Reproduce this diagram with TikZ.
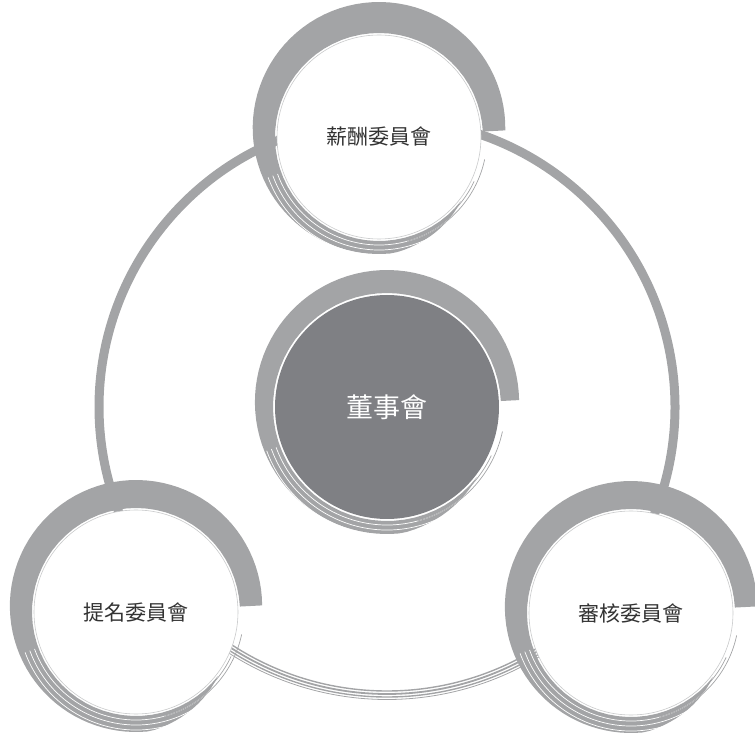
\documentclass[tikz,border=0pt]{standalone}
\usepackage{fontspec}
\newfontfamily\cjk{Noto Sans CJK TC}
\usetikzlibrary{backgrounds}
\definecolor{brushgray}{HTML}{A3A4A6}
\definecolor{boardgray}{HTML}{7F8084}
\definecolor{rimgray}{HTML}{C9CACB}
\tikzset{
  committee/.style={circle, draw=rimgray, line width=0.6pt, fill=white, minimum size=204pt, inner sep=0pt, font=\cjk\fontsize{21}{25}\selectfont, text=black!80},
  board/.style={circle, fill=boardgray, minimum size=224pt, inner sep=0pt, font=\cjk\fontsize{27}{32}\selectfont, text=white},
  brush/.style={fill=brushgray},
}
% brush ring: #1 node, #2 inner radius, #3 side width, #4 extra width on top
\newcommand{\brushring}[4]{%
  \begin{scope}[shift={(#1.center)}]
    \fill[brush] plot[domain=3:322, samples=90] (\x:{#2+2+(#3+#4*sin(\x))*min(1,(322-\x)/45)})
      -- plot[domain=322:3, samples=60] (\x:{#2+2}) -- cycle;
    \foreach \d in {4,9,14}
      \draw[white, line width=0.7pt] (200:{#2+2+\d}) arc[start angle=200, end angle=320, radius={#2+2+\d}];
    \foreach \d/\a in {3/335,6/348}
      \draw[brushgray, line width=0.7pt] (285:{#2+\d}) arc[start angle=285, end angle=\a, radius={#2+\d}];
  \end{scope}}

\begin{document}
\begin{tikzpicture}[x=1pt, y=1pt]
  \useasboundingbox (0,0) rectangle (755,734);

  \node[board] (board) at (387,327) {董事會};
  \node[committee] (pay) at (379,597) {薪酬委員會};
  \node[committee] (nominate) at (136,122) {提名委員會};
  \node[committee] (audit) at (631,121) {審核委員會};

  \begin{scope}[on background layer]
    % outer ring linking the committees
    \draw[brushgray, line width=9pt] (board.center) ++(-40:288) arc[start angle=-40, end angle=220, radius=288];
    \foreach \d/\w in {-4/1.4, -1/1.8, 2/1.4, 4.5/0.8}
      \draw[brushgray, line width=\w pt] (board.center) ++(220:288+\d) arc[start angle=220, end angle=320, radius=288+\d];

    \brushring{board}{112}{18}{5}
    \brushring{pay}{102}{22}{9}
    \brushring{nominate}{102}{22}{6}
    \brushring{audit}{102}{22}{6}
  \end{scope}
\end{tikzpicture}
\end{document}
